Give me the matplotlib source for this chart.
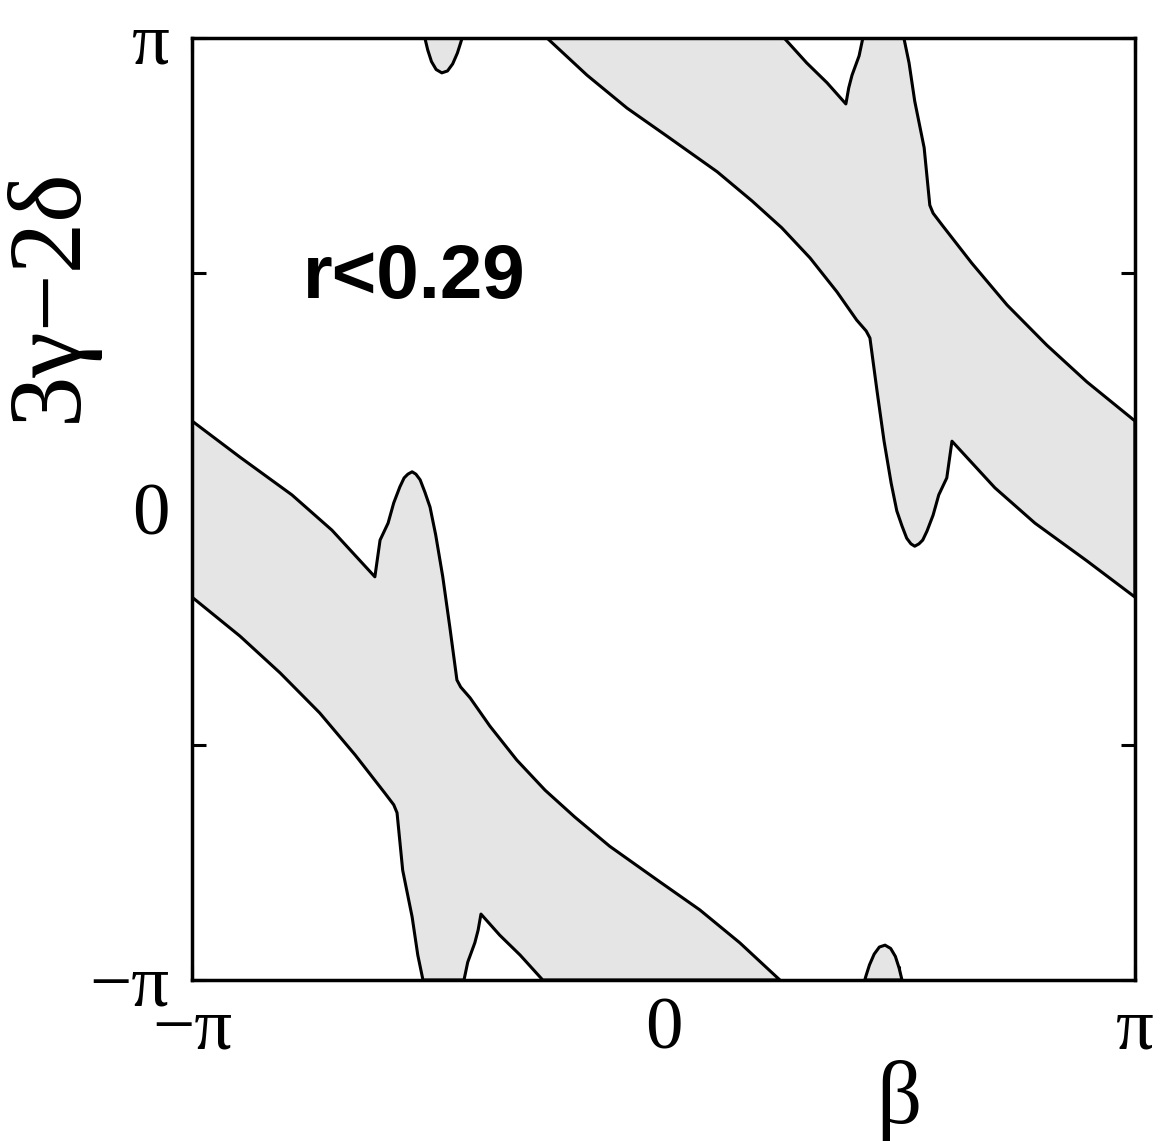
import numpy as np
import matplotlib.pyplot as plt

# region boundaries, in units of pi (beta, 3gamma-2delta)
beta_low = [-1.0, -0.898, -0.788, -0.703, -0.612,
            -0.601, -0.584, -0.572, -0.559, -0.550, -0.542, -0.533, -0.525, -0.516, -0.506,
            -0.495, -0.483, -0.468, -0.453, -0.438, -0.430, -0.410,
            -0.368, -0.311, -0.251, -0.188, -0.114, -0.007, 0.077, 0.162, 0.247,
            -0.256, -0.304, -0.347, -0.387, -0.393, -0.400, -0.415, -0.423,
            -0.510, -0.521, -0.533, -0.553, -0.565, -0.572, -0.591, -0.654, -0.729, -0.813, -0.898, -1.0]
phase_low = [0.187, 0.110, 0.030, -0.045, -0.144,
             -0.066, -0.030, 0.013, 0.047, 0.066, 0.074, 0.079, 0.074, 0.062, 0.036,
             0.004, -0.055, -0.144, -0.251, -0.363, -0.378, -0.401,
             -0.461, -0.533, -0.597, -0.654, -0.716, -0.792, -0.851, -0.921, -1.0,
             -1.0, -0.947, -0.905, -0.860, -0.894, -0.921, -0.962, -1.0,
             -1.0, -0.947, -0.866, -0.767, -0.645, -0.628, -0.603, -0.522, -0.433, -0.348, -0.270, -0.187]

beta_up = [1.0, 0.898, 0.788, 0.703, 0.612,
           0.601, 0.584, 0.572, 0.559, 0.550, 0.542, 0.533, 0.525, 0.516, 0.506,
           0.495, 0.483, 0.468, 0.453, 0.438, 0.430, 0.410,
           0.368, 0.311, 0.251, 0.188, 0.114, 0.007, -0.077, -0.162, -0.247,
           0.256, 0.304, 0.347, 0.387, 0.393, 0.400, 0.415, 0.423,
           0.510, 0.521, 0.533, 0.553, 0.565, 0.572, 0.591, 0.654, 0.729, 0.813, 0.898, 1.0]
phase_up = [-0.187, -0.110, -0.030, 0.045, 0.144,
            0.066, 0.030, -0.013, -0.047, -0.066, -0.074, -0.079, -0.074, -0.062, -0.036,
            -0.004, 0.055, 0.144, 0.251, 0.363, 0.378, 0.401,
            0.461, 0.533, 0.597, 0.654, 0.716, 0.792, 0.851, 0.921, 1.0,
            1.0, 0.947, 0.905, 0.860, 0.894, 0.921, 0.962, 1.0,
            1.0, 0.947, 0.866, 0.767, 0.645, 0.628, 0.603, 0.522, 0.433, 0.348, 0.270, 0.187]

# small lobes touching top and bottom edges
beta_top = [-0.506, -0.500, -0.492, -0.482, -0.470, -0.458, -0.447, -0.437, -0.430, -0.427]
phase_top = [1.0, 0.975, 0.950, 0.933, 0.926, 0.930, 0.945, 0.968, 0.990, 1.0]
beta_bot = [0.506, 0.500, 0.492, 0.482, 0.470, 0.458, 0.447, 0.437, 0.430, 0.427]
phase_bot = [-1.0, -0.975, -0.950, -0.933, -0.926, -0.930, -0.945, -0.968, -0.990, -1.0]

fig = plt.figure(figsize=(11.64, 11.41), dpi=100)
ax = fig.add_axes([0.1649, 0.1411, 0.8101, 0.8256])

for bx, py in [(beta_low, phase_low), (beta_up, phase_up),
               (beta_top, phase_top), (beta_bot, phase_bot)]:
    ax.fill(np.pi * np.array(bx), np.pi * np.array(py),
            facecolor='#e5e5e5', edgecolor='black', linewidth=2.2,
            joinstyle='round', zorder=2)

ax.set_xlim(-np.pi, np.pi)
ax.set_ylim(-np.pi, np.pi)

serif = 'Liberation Serif'
ax.set_xticks([-np.pi, 0, np.pi])
ax.set_xticklabels(['\u2212\u03c0', '0', '\u03c0'], family=serif, fontsize=54)
ax.set_yticks([-np.pi, 0, np.pi])
ax.set_yticklabels(['\u2212\u03c0', '0', '\u03c0'], family=serif, fontsize=54)
ax.set_xticks([-np.pi / 2, np.pi / 2], minor=True)
ax.set_yticks([-np.pi / 2, np.pi / 2], minor=True)
ax.tick_params(which='both', direction='in', top=True, right=True,
               length=10, width=2.2)
ax.tick_params(axis='x', which='major', pad=12)
ax.tick_params(axis='y', which='major', pad=16)
for s in ax.spines.values():
    s.set_linewidth(2.5)
    s.set_zorder(5)

ax.set_xlabel('\u03b2', family=serif, fontsize=64)
ax.xaxis.set_label_coords(0.75, -0.085)
ax.set_ylabel('3\u03b3\u22122\u03b4', family=serif, fontsize=74)
ax.yaxis.set_label_coords(-0.10, 0.727)

ax.text(-0.765 * np.pi, 0.448 * np.pi, 'r<0.29', family='Liberation Sans',
        fontweight='bold', fontsize=55, ha='left', va='baseline')

fig.savefig('out.png', dpi=100)
